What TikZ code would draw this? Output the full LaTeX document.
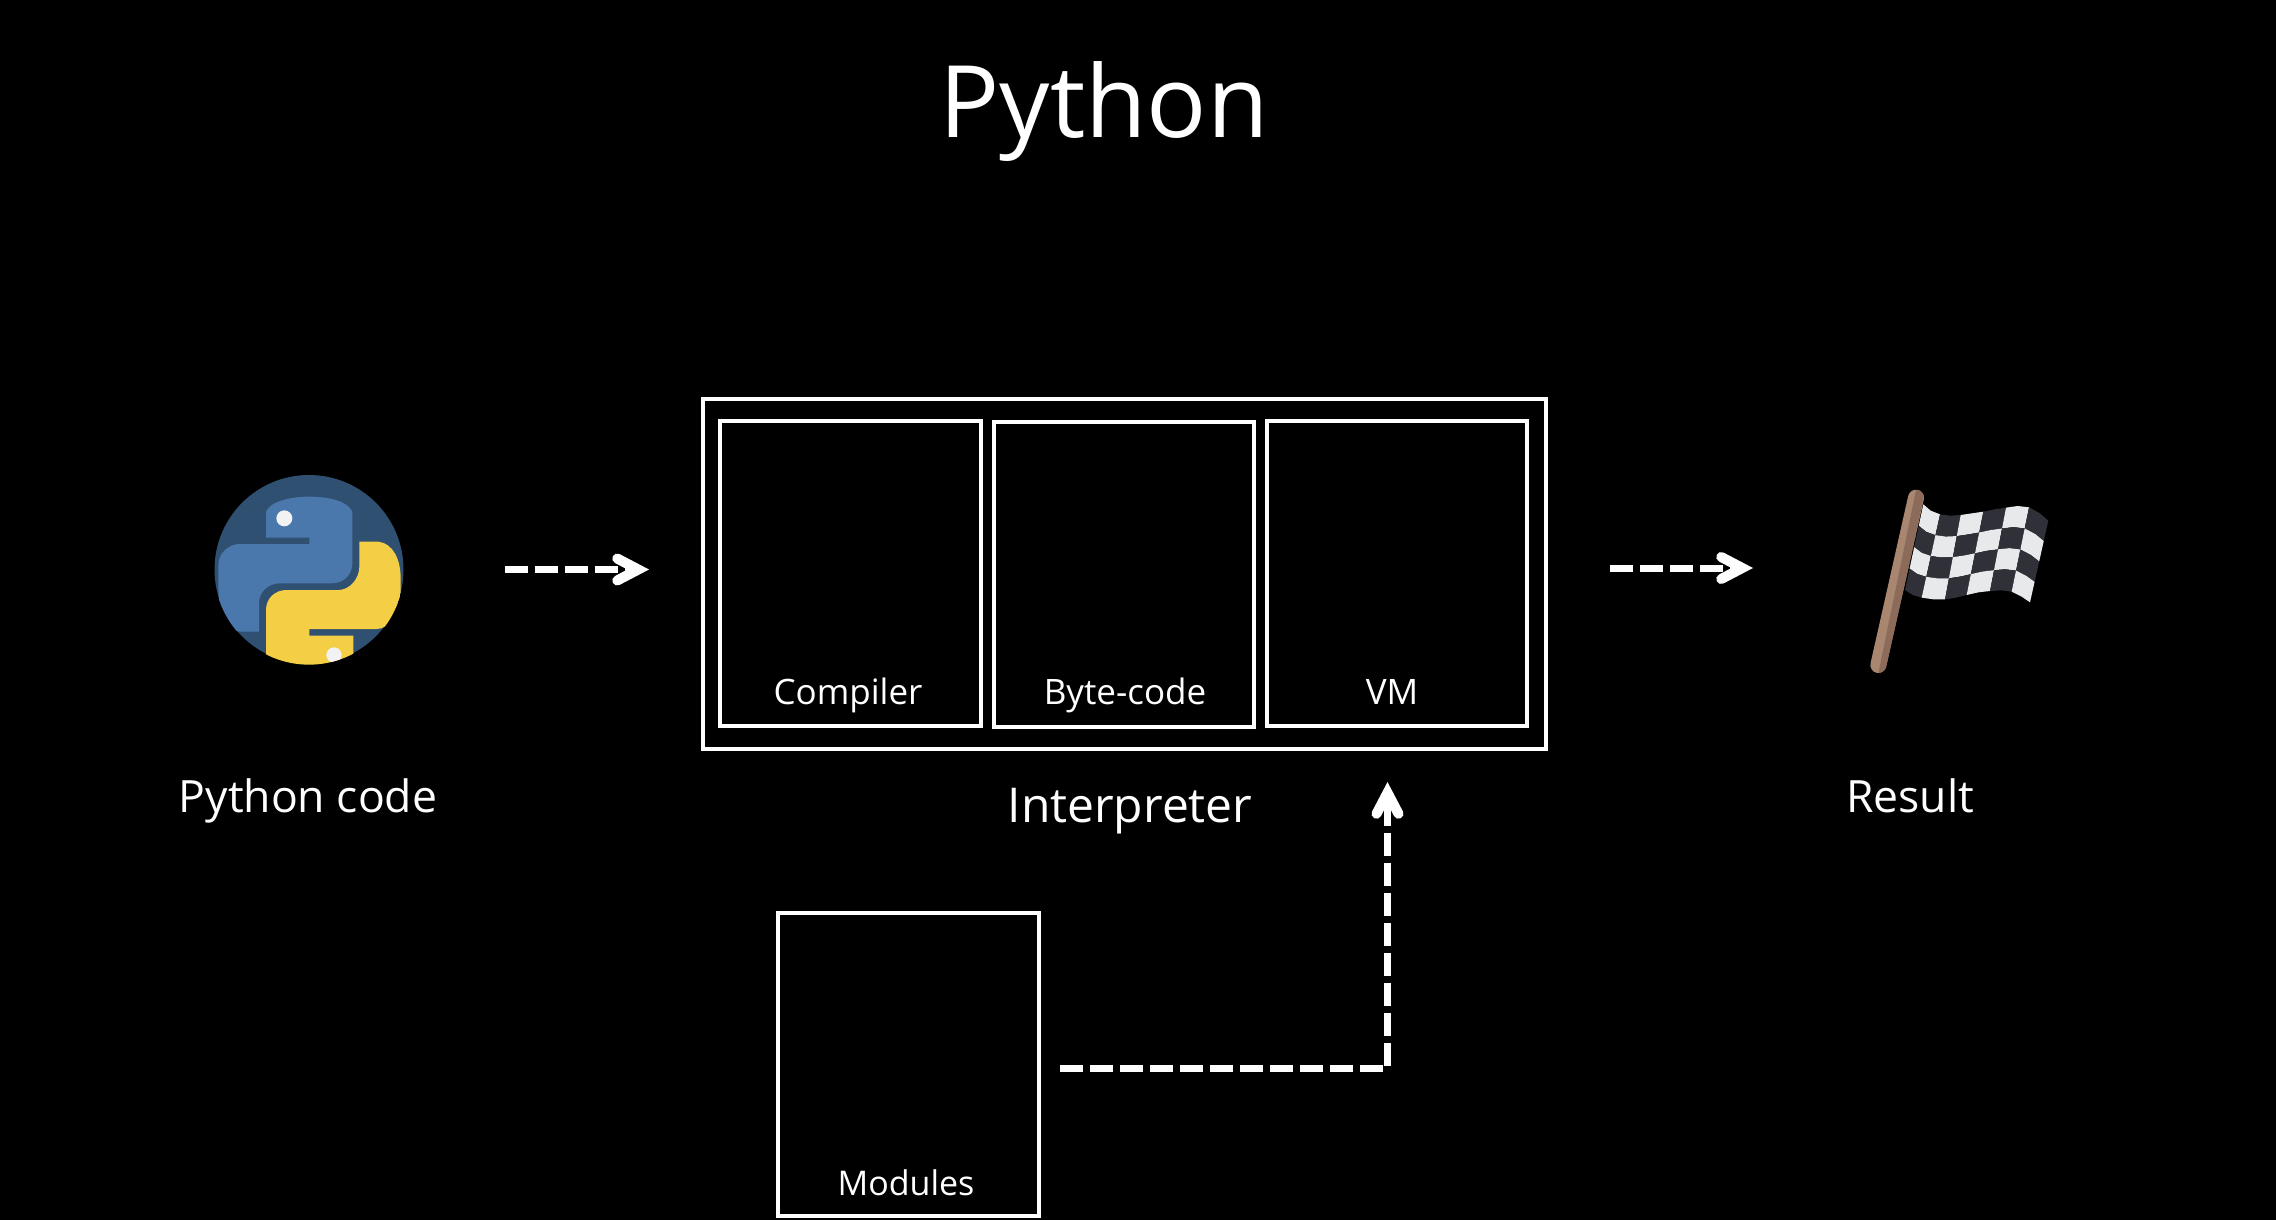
\documentclass[tikz,border=0pt]{standalone}
\usepackage{fontspec}
\setmainfont{Open Sans}
\usetikzlibrary{arrows.meta,calc}
\definecolor{pydark}{HTML}{2F5070}
\definecolor{pyblue}{HTML}{4A78AC}
\definecolor{pyyellow}{HTML}{F4CF46}
\definecolor{eyew}{HTML}{F2F2F2}
\definecolor{flagw}{HTML}{E8E9EB}
\definecolor{flagd}{HTML}{2F3038}
\definecolor{polea}{HTML}{A98670}
\definecolor{poleb}{HTML}{8C6B5B}
\tikzset{
  boxnode/.style={draw=white,line width=4pt,inner sep=0pt,outer sep=0pt,minimum width=#1},
  lab/.style={text=white,font=\fontsize{35}{40}\selectfont,inner sep=0pt,anchor=base},
  biglab/.style={text=white,font=\fontsize{48}{54}\selectfont,inner sep=0pt,anchor=base},
  midlab/.style={text=white,font=\fontsize{44.5}{50}\selectfont,inner sep=0pt,anchor=base},
  flow/.style={draw=white,line width=7pt,dash pattern=on 23pt off 7pt,
    -{Straight Barb[length=21pt,width=22pt,line width=10pt,line cap=round,line join=miter]}}
}
\begin{document}
\begin{tikzpicture}[x=1pt,y=-1pt]
\useasboundingbox (0,0) rectangle (2276,1220);
\fill[black] (0,0) rectangle (2276,1220);

\node[text=white,font=\fontsize{100}{110}\selectfont,inner sep=0pt,anchor=base] (title) at (1104,138) {Python};

% Python icon
\node[circle,fill=pydark,minimum size=189pt,inner sep=0pt,outer sep=0pt] (pyicon) at (309,569.5) {};
\begin{scope}[shift={(190,450)},x=0.33333pt,y=-0.33333pt]
  \clip (357,360) circle[radius=284*0.33333pt];
  \fill[pyblue] (228,185) .. controls (240,155) and (300,140) .. (357,140)
    .. controls (420,140) and (475,155) .. (487,185) -- (487,340)
    .. controls (487,375) and (460,400) .. (425,400) -- (270,400)
    .. controls (235,400) and (207,425) .. (207,460) -- (207,545) -- (150,545)
    .. controls (105,540) and (85,490) .. (85,400) -- (85,345)
    .. controls (85,310) and (115,282) .. (150,282) -- (358,282) -- (358,263) -- (228,263) -- cycle;
  \fill[pyyellow] (228,480) .. controls (228,445) and (255,420) .. (290,420) -- (445,420)
    .. controls (480,420) and (508,385) .. (508,350) -- (508,275) -- (565,275)
    .. controls (610,280) and (632,330) .. (632,385) -- (632,430)
    .. controls (620,490) and (600,537) .. (560,537) -- (358,537) -- (358,557) -- (490,557)
    -- (490,660) -- (228,660) -- cycle;
  \fill[eyew] (283,205) circle[radius=24*0.33333pt];
  \fill[eyew] (432,615) circle[radius=23*0.33333pt];
\end{scope}
\node[midlab] (pylabel) at (308,812) {Python code};

% Interpreter
\node[boxnode=843pt,minimum height=350pt] (interp) at (1124.5,574) {};
\node[boxnode=261pt,minimum height=305pt] (compiler) at (850.5,573.5) {};
\node[boxnode=260pt,minimum height=305pt] (bytecode) at (1124,574.5) {};
\node[boxnode=260pt,minimum height=305pt] (vm) at (1397,573.5) {};
\node[lab] (complab) at (848,704) {Compiler};
\node[lab] (bytelab) at (1125,704) {Byte-code};
\node[lab] (vmlab) at (1392,704) {VM};
\node[biglab] (interplab) at (1130,822) {Interpreter};

% Modules
\node[boxnode=261pt,minimum height=303pt] (modules) at (908.5,1064.5) {};
\node[lab,font=\fontsize{34}{39}\selectfont] (modlab) at (906,1195) {Modules};

% Flag
\node[inner sep=0pt,outer sep=0pt,minimum width=178pt,minimum height=204pt] (flagicon) at (1959,568) {};
\begin{scope}[shift={(1840,470)},x=0.33333pt,y=-0.33333pt]
  \draw[polea,line width=16pt,line cap=round] (228,83) -- (115,585);
  \begin{scope}
    \clip (228,60) -- (255,60) -- (142,610) -- (115,610) -- cycle;
    \draw[poleb,line width=16pt,line cap=round] (228,83) -- (115,585);
  \end{scope}
  \foreach \n/\tx/\ty/\bx/\by in {0/250/103/195/360,1/272/122/218/375,2/300/133/245/383,3/330/137/280/388,4/362/135/315/388,5/396/130/348/383,6/430/125/380/375,7/464/118/415/367,8/498/113/450/363,9/533/108/483/361,10/567/112/515/365,11/600/130/545/380,12/625/152/570/397}{
    \coordinate (t\n) at (\tx,\ty);
    \coordinate (b\n) at (\bx,\by);
  }
  \foreach \i in {0,...,5} \foreach \j in {0,...,3} {
    \pgfmathtruncatemacro\pa{2*\i}
    \pgfmathtruncatemacro\pb{2*\i+1}
    \pgfmathtruncatemacro\pc{2*\i+2}
    \pgfmathtruncatemacro\cc{mod(\i+\j,2)}
    \pgfmathsetmacro\ta{\j/4}
    \pgfmathsetmacro\tb{(\j+1)/4}
    \edef\cellcol{\ifnum\cc=0 flagw\else flagd\fi}
    \fill[\cellcol] ($(t\pa)!\ta!(b\pa)$) -- ($(t\pb)!\ta!(b\pb)$) -- ($(t\pc)!\ta!(b\pc)$)
      -- ($(t\pc)!\tb!(b\pc)$) -- ($(t\pb)!\tb!(b\pb)$) -- ($(t\pa)!\tb!(b\pa)$) -- cycle;
  }
\end{scope}
\node[midlab] (reslab) at (1910,812) {Result};

% Connectors
\draw[flow,shorten <=101pt,shorten >=54pt] (pyicon.east) -- (pyicon.east -| interp.west);
\draw[flow,shorten <=64pt,shorten >=117pt] (flagicon.west -| interp.east) -- (flagicon.west);
\draw[flow,shorten <=21pt,shorten >=56pt] ([yshift=-3.5pt]modules.east) -| ([xshift=-9.5pt]vm.south);
\end{tikzpicture}
\end{document}
